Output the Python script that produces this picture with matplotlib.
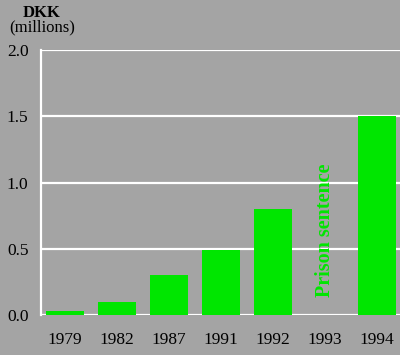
import matplotlib
matplotlib.use('Agg')
import matplotlib.pyplot as plt

years = ['1979', '1982', '1987', '1991', '1992', '1993', '1994']
amounts = [0.03, 0.10, 0.30, 0.49, 0.80, 0.0, 1.50]
yticks = [0.0, 0.5, 1.0, 1.5, 2.0]
note_year = '1993'
note_text = 'Prison sentence'

bg = '#a4a4a4'
green = '#00e600'

plt.rcParams['font.family'] = ['Liberation Serif', 'DejaVu Serif']

fig = plt.figure(figsize=(4.0, 3.55), dpi=100, facecolor=bg)
ax = fig.add_axes([0.1025, 0.1127, 0.8975, 0.7463])
ax.set_facecolor(bg)

pos = list(range(len(years)))
ax.bar([p for p, y in zip(pos, years) if y != note_year],
       [v for v, y in zip(amounts, years) if y != note_year],
       width=0.73, color=green, zorder=3)

# grid
for t in yticks:
    ax.axhline(t, color='white', lw=1.6, zorder=1)

ax.text(years.index(note_year), 0.64, note_text, rotation=90, color=green,
        fontsize=14.5, fontweight='bold', ha='center', va='center', zorder=4)

ax.set_xlim(-0.46, 6.44)
ax.set_ylim(0, 2.0)
ax.set_xticks(pos)
ax.set_xticklabels(years)
ax.set_yticks(yticks)
ax.set_yticklabels(['%.1f' % t for t in yticks])
ax.tick_params(axis='both', length=0, labelsize=12.5, colors='black')
ax.tick_params(axis='x', pad=12)
ax.tick_params(axis='y', pad=9)

for s in ['top', 'right', 'bottom']:
    ax.spines[s].set_visible(False)
ax.spines['left'].set_color('white')
ax.spines['left'].set_linewidth(1.6)

fig.text(0.105, 0.963, 'DKK', ha='center', va='center', fontsize=12, fontweight='bold')
fig.text(0.105, 0.922, '(millions)', ha='center', va='center', fontsize=12)

fig.savefig('out.png', dpi=100, facecolor=bg)
